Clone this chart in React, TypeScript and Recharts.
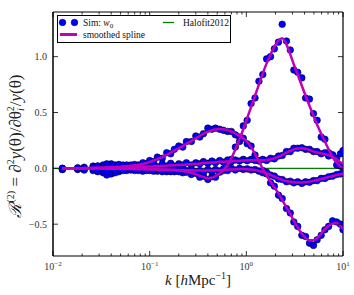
import { ComposedChart, Line, XAxis, YAxis } from 'recharts'

// k bins [h/Mpc]
const K = [
  0.0125, 0.018, 0.021, 0.026, 0.029, 0.033, 0.036, 0.04, 0.044, 0.048,
  0.053, 0.058, 0.064, 0.07, 0.077, 0.085, 0.093, 0.1, 0.11, 0.12,
  0.135, 0.15, 0.165, 0.18, 0.2, 0.22, 0.24, 0.27, 0.3, 0.33,
  0.36, 0.4, 0.44, 0.48, 0.53, 0.58, 0.64, 0.7, 0.77, 0.85,
  0.93, 1.02, 1.12, 1.23, 1.35, 1.48, 1.62, 1.78, 1.95, 2.15,
  2.35, 2.6, 2.85, 3.1, 3.4, 3.75, 4.1, 4.5, 4.95, 5.4,
  5.95, 6.5, 7.1, 7.8, 8.6, 9.4, 10.0,
]

// big peak response
const SPLINE_A = [
  0, 0, 0, 0, 0, 0, 0, 0, 0, 0,
  -0.002, -0.003, -0.004, -0.005, -0.006, -0.007, -0.008, -0.009, -0.01, -0.011,
  -0.012, -0.013, -0.015, -0.017, -0.02, -0.025, -0.03, -0.04, -0.052, -0.066,
  -0.078, -0.088, -0.085, -0.07, -0.045, -0.015, 0.03, 0.09, 0.17, 0.26,
  0.35, 0.45, 0.55, 0.65, 0.75, 0.85, 0.94, 1.02, 1.09, 1.145,
  1.165, 1.11, 1.02, 0.93, 0.84, 0.74, 0.65, 0.56, 0.47, 0.39,
  0.31, 0.24, 0.17, 0.1, 0.05, 0.015, 0.0,
]
const SIM_A = [
  -0.01, -0.005, 0.01, -0.02, 0.02, -0.04, 0.03, -0.05, 0.02, -0.03,
  0.01, -0.02, 0.015, -0.02, 0.01, -0.025, 0.0, -0.02, -0.005, -0.025,
  0.0, -0.03, -0.01, -0.03, -0.015, -0.04, -0.02, -0.055, -0.045, -0.08,
  -0.07, -0.1, -0.075, -0.08, -0.035, -0.02, 0.05, 0.08, 0.19, 0.24,
  0.38, 0.43, 0.58, 0.63, 0.78, 0.84, 0.98, 1.0, 1.07, 1.13,
  1.29, 1.14, 1.06, 0.88, 0.86, 0.81, 0.63, 0.62, 0.49, 0.43,
  0.28, 0.26, 0.14, 0.12, 0.03, 0.02, 0.01,
]

// hump then deep trough
const SPLINE_B = [
  0, 0, 0.002, 0.004, 0.005, 0.006, 0.008, 0.01, 0.012, 0.014,
  0.017, 0.02, 0.023, 0.027, 0.032, 0.04, 0.048, 0.057, 0.07, 0.083,
  0.1, 0.12, 0.14, 0.16, 0.18, 0.2, 0.22, 0.245, 0.27, 0.29,
  0.31, 0.328, 0.34, 0.348, 0.352, 0.35, 0.342, 0.33, 0.312, 0.292,
  0.268, 0.238, 0.19, 0.13, 0.065, -0.005, -0.065, -0.12, -0.17, -0.225,
  -0.285, -0.35, -0.41, -0.47, -0.53, -0.585, -0.625, -0.645, -0.645, -0.625,
  -0.585, -0.545, -0.515, -0.495, -0.49, -0.515, -0.54,
]
const SIM_B = [
  -0.01, 0.0, -0.01, 0.02, -0.01, 0.03, -0.06, 0.04, -0.04, 0.03,
  0.02, 0.03, 0.01, 0.035, 0.03, 0.05, 0.04, 0.07, 0.06, 0.1,
  0.09, 0.14, 0.13, 0.17, 0.2, 0.19, 0.24, 0.24, 0.29, 0.28,
  0.31, 0.36, 0.35, 0.36, 0.35, 0.34, 0.33, 0.33, 0.3, 0.28,
  0.27, 0.22, 0.2, 0.12, 0.07, -0.02, -0.05, -0.13, -0.16, -0.24,
  -0.27, -0.36, -0.4, -0.48, -0.52, -0.6, -0.61, -0.67, -0.69, -0.64,
  -0.6, -0.55, -0.52, -0.47, -0.48, -0.5, -0.55,
]

// small positive bump
const SPLINE_C = [
  0, 0, 0.001, 0.002, 0.003, 0.004, 0.005, 0.006, 0.007, 0.008,
  0.009, 0.01, 0.011, 0.012, 0.013, 0.014, 0.015, 0.016, 0.018, 0.02,
  0.022, 0.024, 0.026, 0.028, 0.03, 0.032, 0.034, 0.037, 0.04, 0.043,
  0.046, 0.049, 0.052, 0.055, 0.058, 0.06, 0.062, 0.064, 0.066, 0.068,
  0.07, 0.072, 0.073, 0.073, 0.072, 0.072, 0.075, 0.082, 0.092, 0.105,
  0.12, 0.14, 0.158, 0.17, 0.178, 0.18, 0.175, 0.165, 0.152, 0.142,
  0.134, 0.128, 0.12, 0.105, 0.08, 0.055, 0.04,
]
const SIM_C = [
  0.0, -0.01, 0.0, 0.015, 0.02, -0.02, 0.04, 0.0, 0.03, 0.035,
  0.03, 0.0, 0.03, 0.01, 0.025, 0.0, 0.03, 0.01, 0.035, 0.015,
  0.04, 0.02, 0.045, 0.02, 0.04, 0.03, 0.05, 0.03, 0.05, 0.04,
  0.06, 0.045, 0.065, 0.05, 0.07, 0.055, 0.075, 0.06, 0.075, 0.065,
  0.08, 0.068, 0.08, 0.07, 0.065, 0.08, 0.07, 0.09, 0.085, 0.11,
  0.115, 0.15, 0.15, 0.18, 0.18, 0.185, 0.17, 0.17, 0.15, 0.15,
  0.13, 0.14, 0.11, 0.12, 0.09, 0.13, 0.16,
]

// small negative dip
const SPLINE_D = [
  0, 0, -0.001, -0.001, -0.002, -0.002, -0.003, -0.003, -0.004, -0.004,
  -0.005, -0.005, -0.006, -0.006, -0.007, -0.007, -0.008, -0.008, -0.009, -0.01,
  -0.011, -0.012, -0.013, -0.014, -0.015, -0.016, -0.017, -0.018, -0.019, -0.02,
  -0.02, -0.02, -0.019, -0.018, -0.016, -0.014, -0.012, -0.01, -0.008, -0.007,
  -0.007, -0.008, -0.011, -0.016, -0.023, -0.032, -0.044, -0.058, -0.074, -0.09,
  -0.103, -0.114, -0.121, -0.125, -0.127, -0.127, -0.124, -0.119, -0.112, -0.104,
  -0.095, -0.086, -0.077, -0.068, -0.06, -0.053, -0.048,
]
const SIM_D = [
  0.0, 0.005, -0.015, 0.0, -0.03, 0.01, -0.03, 0.02, -0.02, 0.0,
  -0.02, 0.01, -0.015, 0.0, -0.02, 0.005, -0.02, 0.0, -0.025, -0.005,
  -0.03, -0.01, -0.03, -0.005, -0.03, -0.01, -0.035, -0.01, -0.03, -0.02,
  -0.035, -0.01, -0.03, -0.01, -0.025, -0.005, -0.02, 0.0, -0.015, 0.0,
  -0.01, -0.005, -0.015, -0.01, -0.025, -0.04, -0.035, -0.06, -0.07, -0.095,
  -0.1, -0.12, -0.115, -0.13, -0.12, -0.135, -0.12, -0.125, -0.11, -0.11,
  -0.09, -0.09, -0.075, -0.07, -0.055, -0.05, -0.045,
]

const HALOFIT_K = [0.01, 10]
const HALOFIT = [0, 0]

const X_TICKS = [
  0.01, 0.02, 0.03, 0.04, 0.05, 0.06, 0.07, 0.08, 0.09,
  0.1, 0.2, 0.3, 0.4, 0.5, 0.6, 0.7, 0.8, 0.9,
  1, 2, 3, 4, 5, 6, 7, 8, 9, 10,
]
const X_EXP: Record<string, string> = { '0.01': '\u22122', '0.1': '\u22121', '1': '0', '10': '1' }
const Y_TICKS = [-0.5, 0, 0.5, 1.0]

const FONT = '"Liberation Serif", "DejaVu Serif", serif'
const BLUE = '#0000ff'
const MAGENTA = '#bf00bf'

const rows = K.map((k, i) => ({
  k,
  splA: SPLINE_A[i], simA: SIM_A[i],
  splB: SPLINE_B[i], simB: SIM_B[i],
  splC: SPLINE_C[i], simC: SIM_C[i],
  splD: SPLINE_D[i], simD: SIM_D[i],
}))
const haloRows = HALOFIT_K.map((k, i) => ({ k, halo: HALOFIT[i] }))

function BottomTick({ x, y, payload }: any) {
  const exp = X_EXP[String(payload.value)]
  const len = exp ? 5 : 2.5
  return (
    <g>
      <line x1={x} x2={x} y1={y} y2={y - len} stroke="#000" strokeWidth={0.8} />
      {exp && (
        <text x={x} y={y + 14} textAnchor="middle" fontFamily={FONT} fontSize={10} fill="#333">
          10<tspan dy={-4} fontSize={7}>{exp}</tspan>
        </text>
      )}
    </g>
  )
}

function TopTick({ x, y, payload }: any) {
  const len = X_EXP[String(payload.value)] ? 5 : 2.5
  return <line x1={x} x2={x} y1={y} y2={y + len} stroke="#000" strokeWidth={0.8} />
}

function LeftTick({ x, y, payload }: any) {
  const v = payload.value as number
  const txt = v < 0 ? '\u2212' + Math.abs(v).toFixed(1) : v.toFixed(1)
  return (
    <g>
      <line x1={x} x2={x + 5} y1={y} y2={y} stroke="#000" strokeWidth={0.8} />
      <text x={x - 6} y={y + 3.5} textAnchor="end" fontFamily={FONT} fontSize={10} fill="#333">{txt}</text>
    </g>
  )
}

function RightTick({ x, y }: any) {
  return <line x1={x} x2={x - 5} y1={y} y2={y} stroke="#000" strokeWidth={0.8} />
}

const dotStyle = { r: 3.3, fill: BLUE, stroke: '#00003a', strokeWidth: 0.6 }

export default function App() {
  return (
    <div style={{ position: 'absolute', left: 0, top: 0, width: 354, height: 295, background: '#fff' }}>
      <ComposedChart width={354} height={295} data={rows} margin={{ top: 0, right: 0, bottom: 0, left: 0 }}>
        <XAxis
          dataKey="k" type="number" scale="log" domain={[0.01, 10]} allowDataOverflow
          ticks={X_TICKS} interval={0} tickSize={0} tickMargin={0} height={39}
          tick={(p: any) => <BottomTick {...p} />} axisLine={{ stroke: '#000', strokeWidth: 1.2 }}
        />
        <XAxis
          xAxisId="top" orientation="top" dataKey="k" type="number" scale="log" domain={[0.01, 10]}
          allowDataOverflow ticks={X_TICKS} interval={0} tickSize={0} tickMargin={0} height={12}
          tick={(p: any) => <TopTick {...p} />} axisLine={{ stroke: '#000', strokeWidth: 1.2 }}
        />
        <YAxis
          type="number" domain={[-0.785, 1.4]} allowDataOverflow ticks={Y_TICKS} interval={0}
          tickSize={0} tickMargin={0} width={53}
          tick={(p: any) => <LeftTick {...p} />} axisLine={{ stroke: '#000', strokeWidth: 1.5 }}
        />
        <YAxis
          yAxisId="right" orientation="right" type="number" domain={[-0.785, 1.4]} allowDataOverflow
          ticks={Y_TICKS} interval={0} tickSize={0} tickMargin={0} width={11}
          tick={(p: any) => <RightTick {...p} />} axisLine={{ stroke: '#000', strokeWidth: 1.2 }}
        />

        <Line data={haloRows} dataKey="halo" stroke="#008000" strokeWidth={1.3} dot={false} activeDot={false} isAnimationActive={false} zIndex={300} />

        <Line dataKey="simA" stroke="none" dot={dotStyle} activeDot={false} isAnimationActive={false} zIndex={350} />
        <Line dataKey="simB" stroke="none" dot={dotStyle} activeDot={false} isAnimationActive={false} zIndex={350} />
        <Line dataKey="simC" stroke="none" dot={dotStyle} activeDot={false} isAnimationActive={false} zIndex={350} />
        <Line dataKey="simD" stroke="none" dot={dotStyle} activeDot={false} isAnimationActive={false} zIndex={350} />

        <Line type="monotone" dataKey="splD" stroke={MAGENTA} strokeWidth={2.5} dot={false} activeDot={false} isAnimationActive={false} zIndex={800} />
        <Line type="monotone" dataKey="splC" stroke={MAGENTA} strokeWidth={2.5} dot={false} activeDot={false} isAnimationActive={false} zIndex={800} />
        <Line type="monotone" dataKey="splB" stroke={MAGENTA} strokeWidth={2.5} dot={false} activeDot={false} isAnimationActive={false} zIndex={800} />
        <Line type="monotone" dataKey="splA" stroke={MAGENTA} strokeWidth={2.5} dot={false} activeDot={false} isAnimationActive={false} zIndex={800} />
      </ComposedChart>

      <svg width={354} height={295} style={{ position: 'absolute', left: 0, top: 0, pointerEvents: 'none' }}>
        <text x={198} y={285} textAnchor="middle" fontFamily={FONT} fontSize={15} fill="#222">
          <tspan fontStyle="italic">k</tspan> [<tspan fontStyle="italic">h</tspan>Mpc<tspan dy={-6} fontSize={10}>{'\u22121'}</tspan><tspan dy={6}>]</tspan>
        </text>
        <text x={21} y={146} transform="rotate(-90, 21, 146)" textAnchor="middle" fontFamily={FONT} fontSize={17} fill="#222">
          <tspan fontStyle="italic">{'\u211B'}</tspan>
          <tspan dy={-7} fontSize={10}>(2)</tspan>
          <tspan dy={7}> = {'\u2202'}</tspan>
          <tspan dy={-7} fontSize={10}>2</tspan>
          <tspan dy={7} fontStyle="italic">y</tspan>
          <tspan>({'\u03B8'})/{'\u2202'}{'\u03B8'}</tspan>
          <tspan dy={3} fontSize={10} fontStyle="italic">i</tspan>
          <tspan dy={-10} dx={-3} fontSize={10}>2</tspan>
          <tspan dy={7}>/</tspan>
          <tspan fontStyle="italic">y</tspan>
          <tspan>({'\u03B8'})</tspan>
        </text>

        <rect x={57.5} y={15.5} width={173} height={27} fill="#fff" stroke="#000" strokeWidth={1} />
        <circle cx={62.5} cy={22.5} r={3.3} fill={BLUE} stroke="#00003a" strokeWidth={0.6} />
        <circle cx={74.5} cy={22.5} r={3.3} fill={BLUE} stroke="#00003a" strokeWidth={0.6} />
        <text x={83} y={25.5} fontFamily={FONT} fontSize={9.5} fill="#111">
          Sim: <tspan fontStyle="italic">w</tspan><tspan dy={2} fontSize={7}>0</tspan>
        </text>
        <line x1={60} x2={77} y1={34.5} y2={34.5} stroke={MAGENTA} strokeWidth={3} />
        <text x={83} y={37.5} fontFamily={FONT} fontSize={9.5} fill="#111">smoothed spline</text>
        <line x1={163} x2={174} y1={22.5} y2={22.5} stroke="#008000" strokeWidth={1.3} />
        <text x={183} y={25.5} fontFamily={FONT} fontSize={9.5} fill="#111">Halofit2012</text>
      </svg>
    </div>
  )
}
